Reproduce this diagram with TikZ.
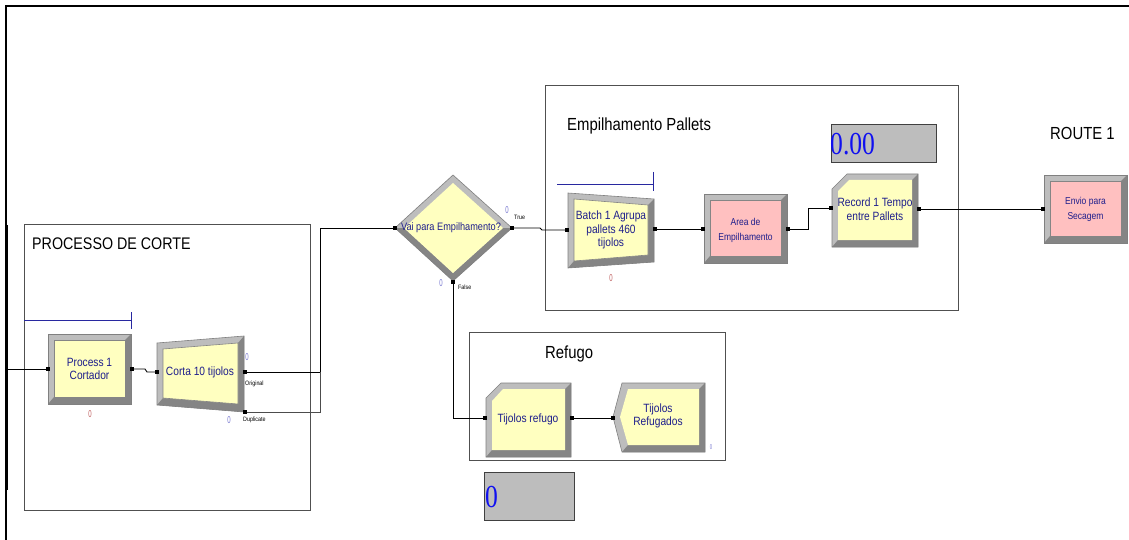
\documentclass[tikz,border=0pt]{standalone}
\usepackage{fontspec}
\newfontfamily\arena[FakeStretch=0.85]{Liberation Sans}
\newfontfamily\narrowfont[FakeStretch=0.6]{Liberation Sans}
\newfontfamily\dispfont[FakeStretch=0.8]{Liberation Serif}
\definecolor{modyellow}{HTML}{FFFFC0}
\definecolor{modpink}{HTML}{FFC0C0}
\definecolor{bevlight}{HTML}{BDBDBD}
\definecolor{bevdark}{HTML}{858585}
\definecolor{txtblue}{HTML}{1E1E8C}
\definecolor{qblue}{HTML}{2828A0}
\definecolor{cntred}{HTML}{C06060}
\definecolor{cntpurple}{HTML}{7878D0}
\definecolor{dispblue}{HTML}{1010F0}
\definecolor{grpline}{HTML}{505050}
\newcommand\quadmod[9]{%
  \fill[bevlight] #1--#2--#3--#4--cycle;
  \fill[bevdark] #2--#3--#4--#8--#7--#6--cycle;
  \fill[#9] #5--#6--#7--#8--cycle;
  \draw[bevdark,line width=0.6pt] #5--#6--#7--#8--cycle;
  \draw[gray,line width=0.6pt] #1--#2--#3--#4--cycle;}
\newcommand\portdot[1]{\fill (#1) ++(-1.6,-1.6) rectangle ++(3.2,3.2);}
\begin{document}
\begin{tikzpicture}[x=1pt,y=-1pt,
  modtext/.style={font=\arena\fontsize{12}{13.5}\selectfont, text=txtblue, align=center, inner sep=0},
  modsmall/.style={font=\arena\fontsize{10}{15}\selectfont, text=txtblue, align=center, inner sep=0},
  grptitle/.style={font=\arena\fontsize{17.5}{20}\selectfont, anchor=base west, inner sep=0},
  grpbox/.style={draw=grpline, line width=0.9pt},
  conn/.style={line width=0.9pt, black},
  lbl/.style={font=\arena\fontsize{6.3}{7}\selectfont, inner sep=0, anchor=west},
  cnt/.style={font=\narrowfont\fontsize{10}{10}\selectfont, inner sep=0},
  queue/.style={qblue, line width=0.9pt},
  dispbox/.style={fill=bevlight, draw=black!75, line width=0.8pt}]
\useasboundingbox (0,0) rectangle (1129,540);
\fill[white] (0,0) rectangle (1129,540);

% outer frame
\draw[black, line width=1.8pt] (6,540) -- (6,6) -- (1129,6);
\draw[black, line width=2.6pt] (6.5,225) -- (6.5,490);

% group boxes
\draw[grpbox] (24,224) rectangle (310,510);
\node[grptitle, font=\arena\fontsize{16.8}{20}\selectfont] (tcorte) at (32,249) {PROCESSO DE CORTE};
\draw[grpbox] (545,85) rectangle (958,310);
\node[grptitle] (tempil) at (567,131) {Empilhamento Pallets};
\draw[grpbox] (469,332) rectangle (725,460);
\node[grptitle] (trefugo) at (545,358) {Refugo};
\node[grptitle] (troute) at (1050,140) {ROUTE 1};

% queues
\draw[queue] (24,320) -- (131,320);
\draw[queue] (131,312) -- (131,329);
\draw[queue] (557,184) -- (653,184);
\draw[queue] (653,172) -- (653,191);

% Process 1
\quadmod{(48,334)}{(131,334)}{(131,404)}{(48,404)}{(54,340)}{(125,340)}{(125,397)}{(54,397)}{modyellow}
\node[modtext] (proc) at (89.5,369) {Process 1\\Cortador};
% Separate
\quadmod{(157,343)}{(244,336)}{(244,412)}{(157,405)}{(163,349)}{(238,343)}{(238,404)}{(163,398)}{modyellow}
\node[modtext] (sep) at (200,372) {Corta 10 tijolos};
% Decide
\fill[bevlight] (395,228) -- (453,175) -- (512,228) -- (453,281) -- cycle;
\fill[bevdark] (512,228) -- (453,281) -- (395,228) -- (404,228) -- (453,273) -- (503,228) -- cycle;
\fill[modyellow] (404,228) -- (453,183) -- (503,228) -- (453,273) -- cycle;
\draw[gray,line width=0.6pt] (395,228) -- (453,175) -- (512,228) -- (453,281) -- cycle;
\node[modsmall, font=\arena\fontsize{10.8}{12}\selectfont] (dec) at (451,228) {Vai para Empilhamento?};
% Batch
\quadmod{(568,193)}{(654,199)}{(654,262)}{(568,268)}{(574,199)}{(648,205)}{(648,255)}{(574,261)}{modyellow}
\node[modtext] (batch) at (611,230) {Batch 1 Agrupa\\pallets 460\\tijolos};
% Area
\quadmod{(704,194)}{(787,194)}{(787,263)}{(704,263)}{(710,200)}{(781,200)}{(781,256)}{(710,256)}{modpink}
\node[modsmall] (area) at (745.5,230) {Area de\\Empilhamento};
% Record
\fill[bevlight] (832,189) -- (847,174) -- (918,174) -- (918,247) -- (832,247) -- cycle;
\fill[bevdark] (918,174) -- (918,247) -- (832,247) -- (838,240) -- (912,240) -- (912,180) -- cycle;
\fill[modyellow] (838,191) -- (849,180) -- (912,180) -- (912,240) -- (838,240) -- cycle;
\draw[gray,line width=0.6pt] (832,189) -- (847,174) -- (918,174) -- (918,247) -- (832,247) -- cycle;
\node[modtext] (rec) at (875,209) {Record 1 Tempo\\entre Pallets};
% Envio (Route)
\quadmod{(1044,175)}{(1127,175)}{(1127,243)}{(1044,243)}{(1050,181)}{(1121,181)}{(1121,236)}{(1050,236)}{modpink}
\node[modsmall] (envio) at (1085.5,209) {Envio para\\Secagem};
% Tijolos refugo
\fill[bevlight] (486,398) -- (501,383) -- (571,383) -- (571,457) -- (486,457) -- cycle;
\fill[bevdark] (571,383) -- (571,457) -- (486,457) -- (492,450) -- (565,450) -- (565,389) -- cycle;
\fill[modyellow] (492,401) -- (503,389) -- (565,389) -- (565,450) -- (492,450) -- cycle;
\draw[gray,line width=0.6pt] (486,398) -- (501,383) -- (571,383) -- (571,457) -- (486,457) -- cycle;
\node[modtext] (tref) at (528,419) {Tijolos refugo};
% Dispose
\fill[bevlight] (622,383) -- (705,383) -- (705,452) -- (622,452) -- (613,417) -- cycle;
\fill[bevdark] (705,383) -- (705,452) -- (622,452) -- (628,445) -- (699,445) -- (699,389) -- cycle;
\fill[modyellow] (628,389) -- (699,389) -- (699,445) -- (628,445) -- (620,417) -- cycle;
\draw[gray,line width=0.6pt] (622,383) -- (705,383) -- (705,452) -- (622,452) -- (613,417) -- cycle;
\node[modtext] (disp) at (658,416) {Tijolos\\Refugados};

% displays
\draw[dispbox] (831,124) rectangle (936,162);
\node[font=\dispfont\fontsize{32}{34}\selectfont, text=dispblue, anchor=west, inner sep=0] (d1) at (830,144) {0.00};
\draw[dispbox] (484,472) rectangle (574,520);
\node[font=\dispfont\fontsize{32}{34}\selectfont, text=dispblue, anchor=west, inner sep=0] (d2) at (485,497) {0};

% ports
\coordinate (src) at (6,369);
\coordinate (procin) at (48,369);
\coordinate (procout) at (132,369);
\coordinate (sepin) at (157,372);
\coordinate (sepo1) at (245,372);
\coordinate (sepo2) at (245,412);
\coordinate (jn) at (320,372);
\coordinate (decin) at (395,228);
\coordinate (decT) at (512,228);
\coordinate (decF) at (453,282);
\coordinate (batchin) at (567,230);
\coordinate (batchout) at (655,229);
\coordinate (areain) at (703,229);
\coordinate (areaout) at (788,229);
\coordinate (recin) at (831,208);
\coordinate (recout) at (919,209);
\coordinate (envin) at (1043,209);
\coordinate (trefin) at (485,418);
\coordinate (trefout) at (572,418);
\coordinate (dispin) at (613,418);

% connectors
\draw[conn] (src) -- (procin);
\draw[conn] (procout) -- ++(13,0) -- ++(2,3) -- (sepin);
\draw[conn] (sepo1) -- (jn) |- (decin);
\draw[conn, black!70] (sepo2) -| (jn);
\draw[conn] (decT) -- ++(28,0) -- ++(2,2) -- (batchin);
\draw[conn] (decF) |- (trefin);
\draw[conn] (batchout) -- (areain);
\draw[conn] (areaout) -- ++(20,0) |- (recin);
\draw[conn] (recout) -- (envin);
\draw[conn] (trefout) -- (dispin);
\foreach \p in {procin,procout,sepin,sepo1,sepo2,decin,decT,decF,batchin,batchout,areain,areaout,recin,recout,envin,trefin,trefout,dispin} {\portdot{\p}}

% labels
\node[lbl] (lorig) at (245,384) {Original};
\node[lbl] (ldup) at (243,420) {Duplicate};
\node[lbl] (ltrue) at (514,217) {True};
\node[lbl] (lfalse) at (458,287) {False};

% counters
\node[cnt, text=cntred] (c1) at (90,414) {0};
\node[cnt, text=cntpurple] (c2) at (247,357) {0};
\node[cnt, text=cntpurple] (c3) at (229,420) {0};
\node[cnt, text=cntpurple] (c4) at (507,210) {0};
\node[cnt, text=cntpurple] (c5) at (441,283) {0};
\node[cnt, text=cntred] (c6) at (611,278) {0};
\node[cnt, text=cntpurple, font=\narrowfont\fontsize{7}{7}\selectfont] (c7) at (711,447) {0};
\end{tikzpicture}
\end{document}
